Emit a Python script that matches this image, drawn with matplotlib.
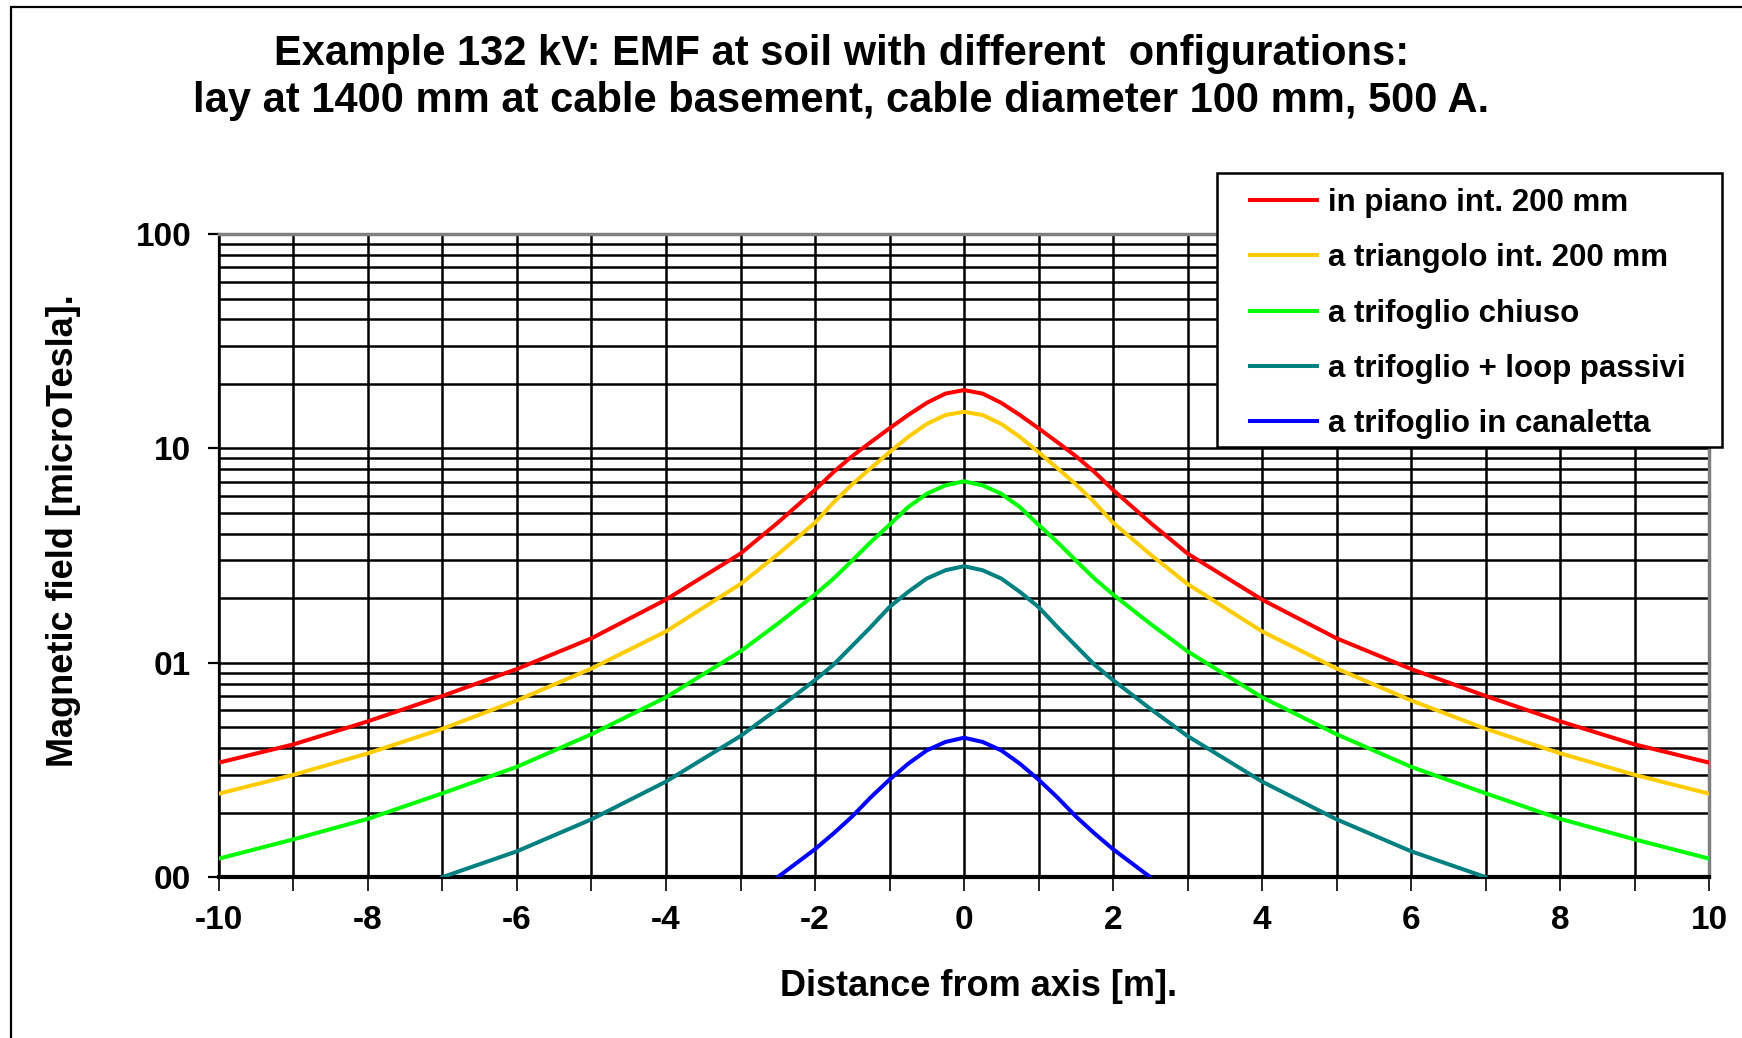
import matplotlib
matplotlib.use("Agg")
import matplotlib.pyplot as plt
from matplotlib.patches import Rectangle

plt.rcParams['font.family'] = ['Liberation Sans', 'DejaVu Sans']
plt.rcParams['font.weight'] = 'bold'
plt.rcParams['axes.unicode_minus'] = False

# distance from axis [m]
x = [-10, -9, -8, -7, -6, -5, -4, -3, -2.5, -2, -1.75, -1.5, -1.25, -1, -0.75, -0.5, -0.25, 0,
     0.25, 0.5, 0.75, 1, 1.25, 1.5, 1.75, 2, 2.5, 3, 4, 5, 6, 7, 8, 9, 10]

# magnetic field [microTesla]
piano = [0.342, 0.416, 0.533, 0.70, 0.935, 1.30, 1.97, 3.23, 4.5, 6.4, 7.76, 9.2, 10.7, 12.4, 14.3, 16.3, 18.0, 18.7,
         18.0, 16.3, 14.3, 12.4, 10.7, 9.2, 7.76, 6.4, 4.5, 3.23, 1.97, 1.30, 0.935, 0.70, 0.533, 0.416, 0.342]
triangolo = [0.245, 0.300, 0.378, 0.492, 0.667, 0.94, 1.40, 2.33, 3.2, 4.5, 5.6, 6.8, 8.1, 9.6, 11.3, 13.0, 14.3, 14.8,
             14.3, 13.0, 11.3, 9.6, 8.1, 6.8, 5.6, 4.5, 3.2, 2.33, 1.40, 0.94, 0.667, 0.492, 0.378, 0.300, 0.245]
chiuso = [0.122, 0.150, 0.187, 0.246, 0.327, 0.464, 0.69, 1.13, 1.52, 2.08, 2.47, 3.0, 3.66, 4.4, 5.32, 6.14, 6.72, 7.02,
          6.72, 6.14, 5.32, 4.4, 3.66, 3.0, 2.47, 2.08, 1.52, 1.13, 0.69, 0.464, 0.327, 0.246, 0.187, 0.150, 0.122]

x_loop = [-7, -6, -5, -4, -3, -2.5, -2, -1.75, -1.5, -1.25, -1, -0.75, -0.5, -0.25, 0,
          0.25, 0.5, 0.75, 1, 1.25, 1.5, 1.75, 2, 2.5, 3, 4, 5, 6, 7]
loop = [0.10, 0.132, 0.186, 0.279, 0.455, 0.61, 0.83, 0.98, 1.2, 1.47, 1.82, 2.14, 2.47, 2.70, 2.82,
        2.70, 2.47, 2.14, 1.82, 1.47, 1.2, 0.98, 0.83, 0.61, 0.455, 0.279, 0.186, 0.132, 0.10]

x_can = [-2.5, -2, -1.75, -1.5, -1.25, -1, -0.75, -0.5, -0.25, 0,
         0.25, 0.5, 0.75, 1, 1.25, 1.5, 1.75, 2, 2.5]
canaletta = [0.10, 0.135, 0.160, 0.192, 0.236, 0.285, 0.338, 0.39, 0.427, 0.447,
             0.427, 0.39, 0.338, 0.285, 0.236, 0.192, 0.160, 0.135, 0.10]

W, H = 1742, 1038
fig = plt.figure(figsize=(W / 100, H / 100), dpi=100)
ax = fig.add_axes([0.1257, 0.155, 0.9811 - 0.1257, 0.7746 - 0.155])

lw = 2.9
ax.plot(x, piano, color="#FF0000", lw=lw, label="in piano int. 200 mm", zorder=3)
ax.plot(x, triangolo, color="#FFCC00", lw=lw, label="a triangolo int. 200 mm", zorder=3)
ax.plot(x, chiuso, color="#00FF00", lw=lw, label="a trifoglio chiuso", zorder=3)
ax.plot(x_loop, loop, color="#008080", lw=lw, label="a trifoglio + loop passivi", zorder=3)
ax.plot(x_can, canaletta, color="#0000FF", lw=lw, label="a trifoglio in canaletta", zorder=3)

ax.set_yscale("log")
ax.set_xlim(-10, 10)
ax.set_ylim(0.1, 100)

ax.set_xticks(range(-10, 11, 2))
ax.set_xticks(range(-10, 11), minor=True)
ax.set_yticks([0.1, 1, 10, 100])
ax.set_yticklabels(["00", "01", "10", "100"])
ax.yaxis.set_minor_formatter(plt.NullFormatter())

ax.grid(True, which="both", axis="both", color="black", lw=1.8, zorder=1)
ax.tick_params(axis="y", which="major", direction="out", length=8, width=1.6, labelsize=24, pad=12)
ax.tick_params(axis="y", which="minor", length=0)
ax.tick_params(axis="x", which="both", direction="out", length=10, width=1.2, labelsize=24, pad=10)

for s in ["top", "right"]:
    ax.spines[s].set_color("#808080")
    ax.spines[s].set_linewidth(2.5)
ax.spines["left"].set_linewidth(1.6)
ax.spines["bottom"].set_linewidth(3)

fig.text(0.483, 0.948, "Example 132 kV: EMF at soil with different  onfigurations:",
         ha="center", va="center", fontsize=30, fontweight="bold")
fig.text(0.483, 0.903, "lay at 1400 mm at cable basement, cable diameter 100 mm, 500 A.",
         ha="center", va="center", fontsize=30, fontweight="bold")
fig.text(0.562, 0.050, "Distance from axis [m].", ha="center", va="center", fontsize=26, fontweight="bold")
fig.text(0.0365, 0.489, "Magnetic field [microTesla].", ha="center", va="center",
         rotation=90, fontsize=26, fontweight="bold")

# legend box drawn separately so its padding matches the original
fig.patches.append(Rectangle((1217 / W, 1 - 447 / H), (1722 - 1217) / W, (447 - 173) / H,
                             transform=fig.transFigure, facecolor="white", edgecolor="black",
                             lw=1.8, zorder=4))
leg = fig.legend(loc="upper left", bbox_to_anchor=(1250 / W, 1 - 188 / H), borderaxespad=0,
                 fontsize=22.5, frameon=False, handlelength=2.14,
                 labelspacing=0.81, borderpad=0, handletextpad=0.35)
leg.set_zorder(5)
for t in leg.get_texts():
    t.set_fontweight("bold")

fig.patches.append(Rectangle((11 / W, -0.05), 1.1, 1 - 7 / H + 0.05,
                             transform=fig.transFigure, fill=False, edgecolor="black", lw=1.6))

fig.savefig("out.png", dpi=100)
